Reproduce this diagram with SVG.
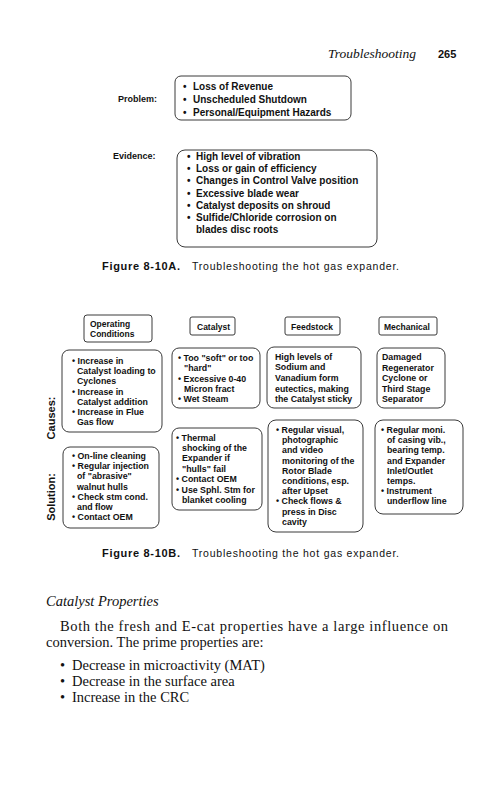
<svg xmlns="http://www.w3.org/2000/svg" width="501" height="800" viewBox="0 0 501 800">
<style>
.box{fill:none;stroke:#3a3a3a;stroke-width:1}
.b{font-family:"Liberation Sans",Arial,sans-serif;font-weight:bold;fill:#111}
.r{font-family:"Liberation Sans",Arial,sans-serif;fill:#111}
.s{font-family:"Liberation Serif","Times New Roman",serif;fill:#111}
.f10{font-size:10px}
.f9{font-size:8.8px}
.f85{font-size:8.5px}
</style>
<rect width="501" height="800" fill="#fff"/>

<g id="header">
<text class="s" x="328" y="58" font-size="13.5" font-style="italic">Troubleshooting</text>
<text class="b" x="438" y="58" font-size="11">265</text>
</g>

<g id="problem">
<text class="b" x="118" y="102" font-size="9">Problem:</text>
<rect class="box" x="175" y="76" width="176" height="44" rx="6"/>
<text class="b f10"><tspan x="183" y="90">•</tspan><tspan x="193" y="90">Loss of Revenue</tspan></text>
<text class="b f10"><tspan x="183" y="103">•</tspan><tspan x="193" y="103">Unscheduled Shutdown</tspan></text>
<text class="b f10"><tspan x="183" y="116">•</tspan><tspan x="193" y="116">Personal/Equipment Hazards</tspan></text>
</g>

<g id="evidence">
<text class="b" x="113" y="159" font-size="9">Evidence:</text>
<rect class="box" x="177" y="150" width="200" height="97" rx="8"/>
<text class="b f10"><tspan x="187" y="160">•</tspan><tspan x="196" y="160">High level of vibration</tspan></text>
<text class="b f10"><tspan x="187" y="172">•</tspan><tspan x="196" y="172">Loss or gain of efficiency</tspan></text>
<text class="b f10"><tspan x="187" y="184">•</tspan><tspan x="196" y="184">Changes in Control Valve position</tspan></text>
<text class="b f10"><tspan x="187" y="197">•</tspan><tspan x="196" y="197">Excessive blade wear</tspan></text>
<text class="b f10"><tspan x="187" y="209">•</tspan><tspan x="196" y="209">Catalyst deposits on shroud</tspan></text>
<text class="b f10"><tspan x="187" y="221">•</tspan><tspan x="196" y="221">Sulfide/Chloride corrosion on</tspan></text>
<text class="b f10" x="196" y="233">blades disc roots</text>
</g>

<g id="caption-a">
<text class="b" x="102" y="270" font-size="11" textLength="78" lengthAdjust="spacing">Figure 8-10A.</text>
<text class="r" x="192" y="270" font-size="10.5" textLength="207" lengthAdjust="spacing">Troubleshooting the hot gas expander.</text>
</g>

<g id="hdr-operating">
<rect class="box" x="84" y="315" width="68" height="27" rx="3"/>
<text class="b f85" x="90" y="327">Operating</text>
<text class="b f85" x="90" y="337">Conditions</text>
</g>
<g id="hdr-catalyst">
<rect class="box" x="190" y="317" width="45" height="18" rx="2"/>
<text class="b f85" x="197" y="330">Catalyst</text>
</g>
<g id="hdr-feedstock">
<rect class="box" x="285" y="317" width="55" height="18" rx="2"/>
<text class="b f85" x="291" y="330">Feedstock</text>
</g>
<g id="hdr-mechanical">
<rect class="box" x="379" y="317" width="58" height="18" rx="2"/>
<text class="b f85" x="384" y="330">Mechanical</text>
</g>

<g id="label-causes">
<text class="b" font-size="11" text-anchor="middle" transform="translate(55,418) rotate(-90)">Causes:</text>
</g>
<g id="label-solution">
<text class="b" font-size="11" text-anchor="middle" transform="translate(55,497) rotate(-90)">Solution:</text>
</g>

<g id="cause-operating">
<rect class="box" x="62" y="350" width="100" height="82" rx="7"/>
<text class="b f9" x="72" y="364">• Increase in</text>
<text class="b f9" x="77" y="374">Catalyst loading to</text>
<text class="b f9" x="77" y="384">Cyclones</text>
<text class="b f9" x="72" y="395">• Increase in</text>
<text class="b f9" x="77" y="405">Catalyst addition</text>
<text class="b f9" x="72" y="415">• Increase in Flue</text>
<text class="b f9" x="77" y="425">Gas flow</text>
</g>

<g id="cause-catalyst">
<rect class="box" x="172" y="348" width="88" height="60" rx="7"/>
<text class="b f9" x="178" y="361">• Too "soft" or too</text>
<text class="b f9" x="184" y="371">"hard"</text>
<text class="b f9" x="178" y="382">• Excessive 0-40</text>
<text class="b f9" x="184" y="392">Micron fract</text>
<text class="b f9" x="178" y="402">• Wet Steam</text>
</g>

<g id="cause-feedstock">
<rect class="box" x="267" y="347" width="94" height="61" rx="7"/>
<text class="b f9" x="275" y="360">High levels of</text>
<text class="b f9" x="275" y="370">Sodium and</text>
<text class="b f9" x="275" y="381">Vanadium form</text>
<text class="b f9" x="275" y="392">eutectics, making</text>
<text class="b f9" x="275" y="402">the Catalyst sticky</text>
</g>

<g id="cause-mechanical">
<rect class="box" x="377" y="348" width="68" height="60" rx="7"/>
<text class="b f9" x="382" y="360">Damaged</text>
<text class="b f9" x="382" y="370.5">Regenerator</text>
<text class="b f9" x="382" y="381">Cyclone or</text>
<text class="b f9" x="382" y="391.5">Third Stage</text>
<text class="b f9" x="382" y="402">Separator</text>
</g>

<g id="solution-operating">
<rect class="box" x="63" y="447" width="96" height="81" rx="7"/>
<text class="b f9" x="72" y="459">• On-line cleaning</text>
<text class="b f9" x="72" y="469">• Regular injection</text>
<text class="b f9" x="77" y="479">of "abrasive"</text>
<text class="b f9" x="77" y="490">walnut hulls</text>
<text class="b f9" x="72" y="500">• Check stm cond.</text>
<text class="b f9" x="77" y="510">and flow</text>
<text class="b f9" x="72" y="520">• Contact OEM</text>
</g>

<g id="solution-catalyst">
<rect class="box" x="172" y="428" width="90" height="82" rx="7"/>
<text class="b f9" x="176" y="441">• Thermal</text>
<text class="b f9" x="182" y="451">shocking of the</text>
<text class="b f9" x="182" y="461">Expander if</text>
<text class="b f9" x="182" y="472">"hulls" fail</text>
<text class="b f9" x="176" y="482">• Contact OEM</text>
<text class="b f9" x="176" y="493">• Use Sphl. Stm for</text>
<text class="b f9" x="182" y="503">blanket cooling</text>
</g>

<g id="solution-feedstock">
<rect class="box" x="268" y="420" width="95" height="112" rx="8"/>
<text class="b f9" x="276" y="433">• Regular visual,</text>
<text class="b f9" x="282" y="443.2">photographic</text>
<text class="b f9" x="282" y="453.4">and video</text>
<text class="b f9" x="282" y="463.6">monitoring of the</text>
<text class="b f9" x="282" y="473.8">Rotor Blade</text>
<text class="b f9" x="282" y="484">conditions, esp.</text>
<text class="b f9" x="282" y="494.2">after Upset</text>
<text class="b f9" x="276" y="504.4">• Check flows &amp;</text>
<text class="b f9" x="282" y="514.6">press in Disc</text>
<text class="b f9" x="282" y="524.8">cavity</text>
</g>

<g id="solution-mechanical">
<rect class="box" x="375" y="420" width="88" height="94" rx="8"/>
<text class="b f9" x="381" y="433">• Regular moni.</text>
<text class="b f9" x="387" y="443.2">of casing vib.,</text>
<text class="b f9" x="387" y="453.4">bearing temp.</text>
<text class="b f9" x="387" y="463.6">and Expander</text>
<text class="b f9" x="387" y="473.8">Inlet/Outlet</text>
<text class="b f9" x="387" y="484">temps.</text>
<text class="b f9" x="381" y="494.2">• Instrument</text>
<text class="b f9" x="387" y="504.4">underflow line</text>
</g>

<g id="caption-b">
<text class="b" x="102" y="557" font-size="11" textLength="78" lengthAdjust="spacing">Figure 8-10B.</text>
<text class="r" x="192" y="557" font-size="10.5" textLength="207" lengthAdjust="spacing">Troubleshooting the hot gas expander.</text>
</g>

<g id="body-text">
<text class="s" x="46" y="606" font-size="14.5" font-style="italic">Catalyst Properties</text>
<text class="s" x="60" y="631" font-size="14.5" textLength="388" lengthAdjust="spacing">Both the fresh and E-cat properties have a large influence on</text>
<text class="s" x="46" y="647" font-size="14.5">conversion. The prime properties are:</text>
<text class="s" font-size="14.5"><tspan x="60" y="670">•</tspan><tspan x="72" y="670">Decrease in microactivity (MAT)</tspan></text>
<text class="s" font-size="14.5"><tspan x="60" y="686">•</tspan><tspan x="72" y="686">Decrease in the surface area</tspan></text>
<text class="s" font-size="14.5"><tspan x="60" y="702">•</tspan><tspan x="72" y="702">Increase in the CRC</tspan></text>
</g>
</svg>
